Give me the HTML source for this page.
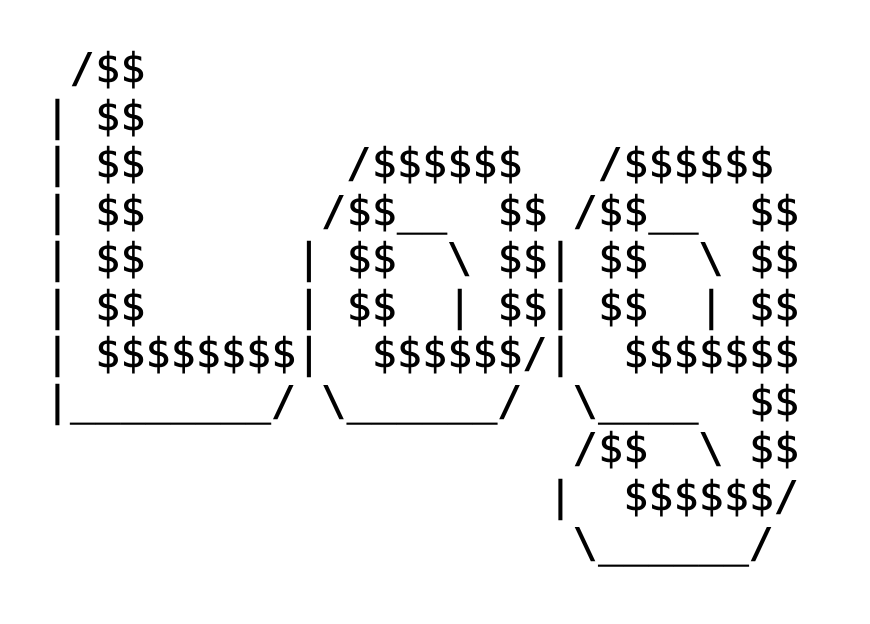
<!DOCTYPE html>
<html><head><meta charset="utf-8"><style>
html,body{margin:0;padding:0;background:#fff;width:870px;height:624px;overflow:hidden}
pre{position:absolute;left:45px;top:45px;margin:0;font-family:"DejaVu Sans Mono","Liberation Mono",monospace;font-size:41.2px;line-height:47.5px;letter-spacing:0.35px;color:#000;-webkit-text-stroke:0.6px #000}
</style></head><body><pre> /$$
| $$
| $$        /$$$$$$   /$$$$$$
| $$       /$$__  $$ /$$__  $$
| $$      | $$  \ $$| $$  \ $$
| $$      | $$  | $$| $$  | $$
| $$$$$$$$|  $$$$$$/|  $$$$$$$
|________/ \______/  \____  $$
                     /$$  \ $$
                    |  $$$$$$/
                     \______/</pre></body></html>
